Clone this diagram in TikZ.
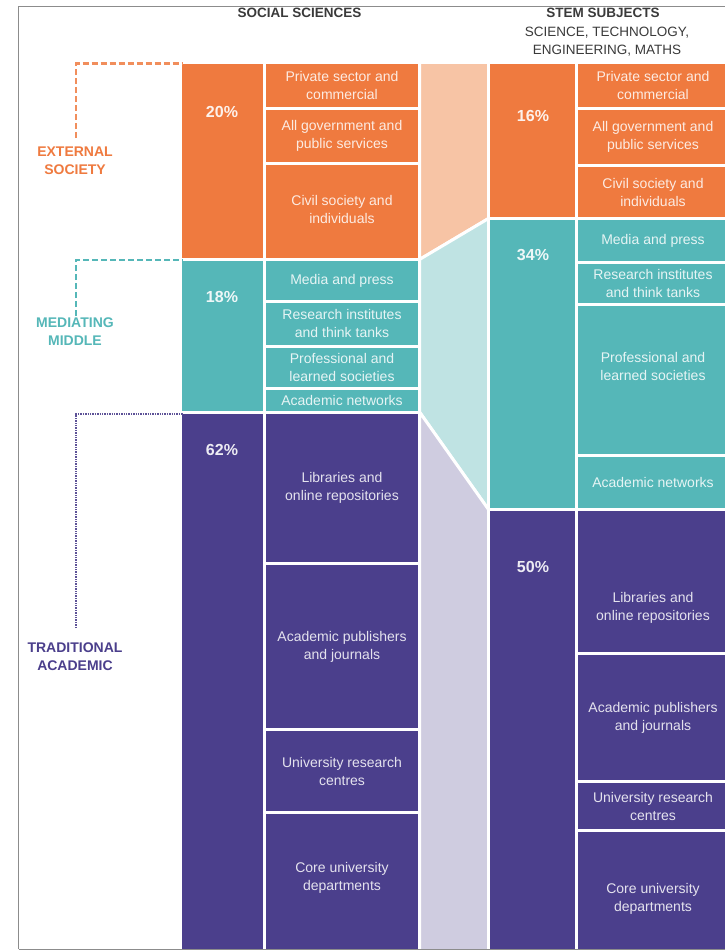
\documentclass[tikz,border=0pt]{standalone}
\usepackage{fontspec}
\setmainfont{Liberation Sans}
\definecolor{orng}{HTML}{EF7A3F}
\definecolor{teal2}{HTML}{55B7B8}
\definecolor{purp}{HTML}{4B3F8C}
\definecolor{lorng}{HTML}{F7C4A5}
\definecolor{lteal}{HTML}{BFE3E3}
\definecolor{lpurp}{HTML}{CFCCE0}
\definecolor{hdr}{HTML}{3A3A3A}
\definecolor{framegray}{HTML}{8C8C8C}
\tikzset{
  blkbox/.style={rectangle, draw=white, line width=3pt, inner sep=0pt, outer sep=0pt},
  sublbl/.style={align=center, text=white, text opacity=0.85, inner sep=0pt, font=\fontsize{14}{18}\selectfont},
  pctlbl/.style={text=white, text opacity=0.9, inner sep=0pt, font=\fontsize{16}{18}\selectfont\bfseries},
  hdrbold/.style={text=hdr, inner sep=0pt, anchor=base, font=\fontsize{13.5}{16}\selectfont\bfseries},
  hdrreg/.style={text=hdr, inner sep=0pt, anchor=base, font=\fontsize{13.5}{16}\selectfont},
  sidelbl/.style={align=center, inner sep=0pt, font=\fontsize{14}{18}\selectfont\bfseries},
  bandpoly/.style={draw=white, line width=3pt, line join=miter},
  extline/.style={draw=orng!85, line width=2.4pt, dash pattern=on 6pt off 3pt},
  medline/.style={draw=teal2, line width=2.4pt, dash pattern=on 6pt off 3pt},
  tradline/.style={draw=purp!90, line width=2.6pt, dash pattern=on 1.4pt off 1pt}
}
\newcommand\blk[8]{%
  \node[blkbox, fill=#6, minimum width={(#4-#2)*1pt}, minimum height={(#5-#3)*1pt}] (#1) at ({(#2+#4)/2},{(#3+#5)/2}) {};
  \node[sublbl, yshift=#8] (#1t) at (#1.center) {#7};
}
\begin{document}
\begin{tikzpicture}[x=1pt, y=-1pt]
\useasboundingbox (0,0) rectangle (725,950);
\fill[white] (0,0) rectangle (725,950);
\clip (0,0) rectangle (725,950);

% headers
\node[hdrbold] (hss) at (299.5,17.5) {SOCIAL SCIENCES};
\node[hdrbold] (hstem) at (603,17.5) {STEM SUBJECTS};
\node[hdrreg] (hsci) at (607,36.5) {SCIENCE, TECHNOLOGY,};
\node[hdrreg] (heng) at (607,55) {ENGINEERING, MATHS};

% band polygons
\path[bandpoly, fill=lorng] (419.5,62.5) -- (488.5,62.5) -- (488.5,218.5) -- (419.5,259.5) -- cycle;
\path[bandpoly, fill=lteal] (419.5,259.5) -- (488.5,218.5) -- (488.5,509.5) -- (419.5,412) -- cycle;
\path[bandpoly, fill=lpurp] (419.5,412) -- (488.5,509.5) -- (488.5,955) -- (419.5,955) -- cycle;

% left percentage column
\blk{LO}{180.5}{62.5}{264.5}{259.5}{orng}{}{0pt}
\blk{LT}{180.5}{259.5}{264.5}{412}{teal2}{}{0pt}
\blk{LP}{180.5}{412}{264.5}{955}{purp}{}{0pt}
\node[pctlbl] (p20) at (222,112) {20\%};
\node[pctlbl] (p18) at (222,297) {18\%};
\node[pctlbl] (p62) at (222,450) {62\%};

% left sub column
\blk{La}{264.5}{62.5}{419.5}{108.5}{orng}{Private sector and\\commercial}{0pt}
\blk{Lb}{264.5}{108.5}{419.5}{163.5}{orng}{All government and\\public services}{0pt}
\blk{Lc}{264.5}{163.5}{419.5}{259.5}{orng}{Civil society and\\individuals}{2pt}
\blk{Ld}{264.5}{259.5}{419.5}{301.5}{teal2}{Media and press}{0pt}
\blk{Le}{264.5}{301.5}{419.5}{346}{teal2}{Research institutes\\and think tanks}{0pt}
\blk{Lf}{264.5}{346}{419.5}{388.5}{teal2}{Professional and\\learned societies}{0pt}
\blk{Lg}{264.5}{388.5}{419.5}{412}{teal2}{Academic networks}{0pt}
\blk{Lh}{264.5}{412}{419.5}{563.5}{purp}{Libraries and\\online repositories}{0pt}
\blk{Li}{264.5}{563.5}{419.5}{729.5}{purp}{Academic publishers\\and journals}{0pt}
\blk{Lj}{264.5}{729.5}{419.5}{812.5}{purp}{University research\\centres}{0pt}
\blk{Lk}{264.5}{812.5}{419.5}{955}{purp}{Core university\\departments}{6pt}

% right percentage column
\blk{RO}{488.5}{62.5}{576}{218.5}{orng}{}{0pt}
\blk{RT}{488.5}{218.5}{576}{509.5}{teal2}{}{0pt}
\blk{RP}{488.5}{509.5}{576}{955}{purp}{}{0pt}
\node[pctlbl] (p16) at (533,116) {16\%};
\node[pctlbl] (p34) at (533,255) {34\%};
\node[pctlbl] (p50) at (533,567) {50\%};

% right sub column
\blk{Ra}{576}{62.5}{730}{108.5}{orng}{Private sector and\\commercial}{0pt}
\blk{Rb}{576}{108.5}{730}{165.5}{orng}{All government and\\public services}{0pt}
\blk{Rc}{576}{165.5}{730}{218.5}{orng}{Civil society and\\individuals}{0pt}
\blk{Rd}{576}{218.5}{730}{262.5}{teal2}{Media and press}{0pt}
\blk{Re}{576}{262.5}{730}{304.5}{teal2}{Research institutes\\and think tanks}{0pt}
\blk{Rf}{576}{304.5}{730}{455.5}{teal2}{Professional and\\learned societies}{14pt}
\blk{Rg}{576}{455.5}{730}{509.5}{teal2}{Academic networks}{0pt}
\blk{Rh}{576}{509.5}{730}{653.5}{purp}{Libraries and\\online repositories}{-26pt}
\blk{Ri}{576}{653.5}{730}{781.5}{purp}{Academic publishers\\and journals}{0pt}
\blk{Rj}{576}{781.5}{730}{830.5}{purp}{University research\\centres}{0pt}
\blk{Rk}{576}{830.5}{730}{955}{purp}{Core university\\departments}{-6pt}

% side labels
\node[sidelbl, text=orng] (ext) at (75,161) {EXTERNAL\\SOCIETY};
\node[sidelbl, text=teal2] (med) at (75,332) {MEDIATING\\MIDDLE};
\node[sidelbl, text=purp] (trad) at (75,657) {TRADITIONAL\\ACADEMIC};
\coordinate (extend) at (76,138);
\coordinate (medend) at (76,316);
\coordinate (tradend) at (76,628);
\draw[extline] (extend) |- ([xshift=2pt,yshift=-1pt]LO.north west);
\draw[medline] (medend) |- ([xshift=2pt,yshift=-0.5pt]LT.north west);
\draw[tradline] (tradend) |- ([xshift=2pt,yshift=-2pt]LP.north west);

% frame
\draw[framegray, line width=1pt] (18.5,6.5) -- (740,6.5);
\draw[framegray, line width=1pt] (18.5,6.5) -- (18.5,949);
\draw[framegray, line width=1pt] (18.5,949) -- (740,949);
\end{tikzpicture}
\end{document}
